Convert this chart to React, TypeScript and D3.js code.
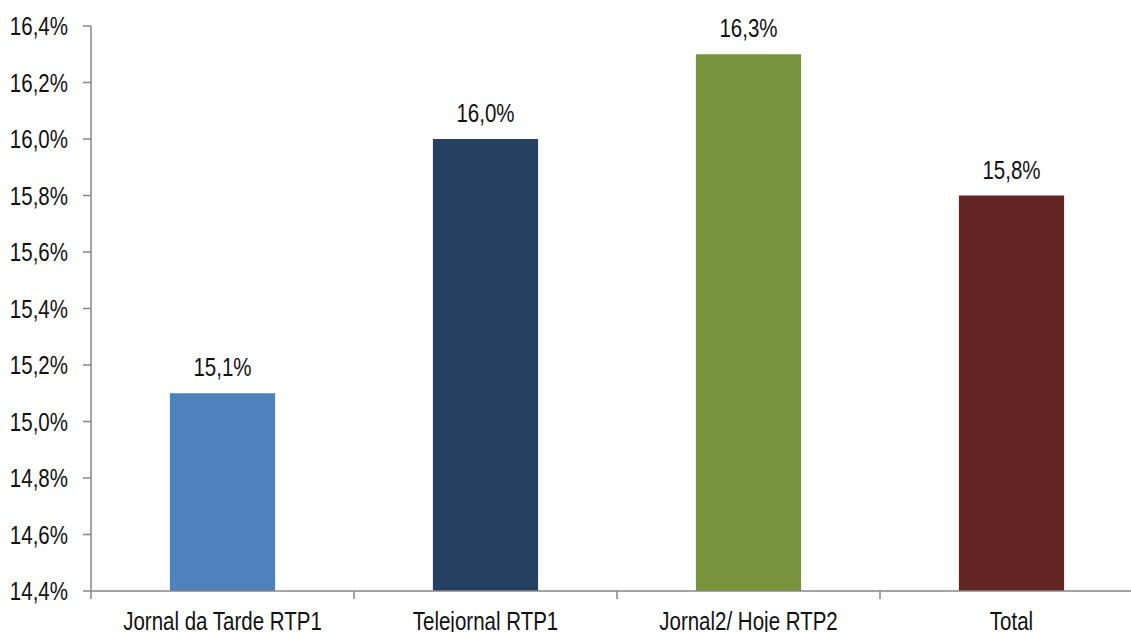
import React from 'react'
import * as d3 from 'd3'

const categories = ['Jornal da Tarde RTP1', 'Telejornal RTP1', 'Jornal2/ Hoje RTP2', 'Total']
const values = [15.1, 16.0, 16.3, 15.8]
const colors = ['#4F81BD', '#254061', '#77933C', '#632523']
const yTicks = [14.4, 14.6, 14.8, 15.0, 15.2, 15.4, 15.6, 15.8, 16.0, 16.2, 16.4]

const W = 1131
const H = 632
const FONT = '"Liberation Sans", Arial, sans-serif'
const FS = 25
const NARROW = 0.82

const fmt = (v: number) => v.toFixed(1).replace('.', ',') + '%'

// texto "estreito" (simula Arial Narrow)
const NText = ({ x, y, anchor, children }: { x: number; y: number; anchor: string; children: React.ReactNode }) => (
  <text transform={`translate(${x},${y}) scale(${NARROW},1)`} textAnchor={anchor}
    fontFamily={FONT} fontSize={FS} fill="#111">{children}</text>
)

const App: React.FC = () => {
  const left = 91
  const bottom = 591
  const x = d3.scaleBand<string>()
    .domain(categories)
    .range([left, left + 263 * 4])
    .paddingInner(0.6)
    .paddingOuter(0.3)
  const y = d3.scaleLinear().domain([14.4, 16.4]).range([bottom, 26])

  const axisColor = '#868686'
  const step = x.step()

  return (
    <svg width={W} height={H} style={{ position: 'absolute', left: 0, top: 0, background: '#fff' }}>
      {/* barras */}
      {categories.map((c, i) => (
        <rect key={c} x={x(c)} y={y(values[i])} width={x.bandwidth()} height={bottom - y(values[i])} fill={colors[i]} />
      ))}
      {/* rótulos de valor */}
      {categories.map((c, i) => (
        <NText key={'v' + c} x={(x(c) || 0) + x.bandwidth() / 2} y={y(values[i]) - 17} anchor="middle">{fmt(values[i])}</NText>
      ))}
      {/* eixo y */}
      <line x1={left} x2={left} y1={y(16.4)} y2={bottom} stroke={axisColor} strokeWidth={1.5} />
      {yTicks.map(t => (
        <g key={t}>
          <line x1={left - 8} x2={left} y1={y(t)} y2={y(t)} stroke={axisColor} strokeWidth={1.5} />
          <NText x={left - 23} y={y(t) + 9} anchor="end">{fmt(t)}</NText>
        </g>
      ))}
      {/* eixo x */}
      <line x1={left} x2={W} y1={bottom} y2={bottom} stroke={axisColor} strokeWidth={1.5} />
      {categories.map((c, i) => (
        <g key={'x' + c}>
          <line x1={left + step * i} x2={left + step * i} y1={bottom} y2={bottom + 8} stroke={axisColor} strokeWidth={1.5} />
          <NText x={(x(c) || 0) + x.bandwidth() / 2} y={630} anchor="middle">{c}</NText>
        </g>
      ))}
    </svg>
  )
}

export default App
